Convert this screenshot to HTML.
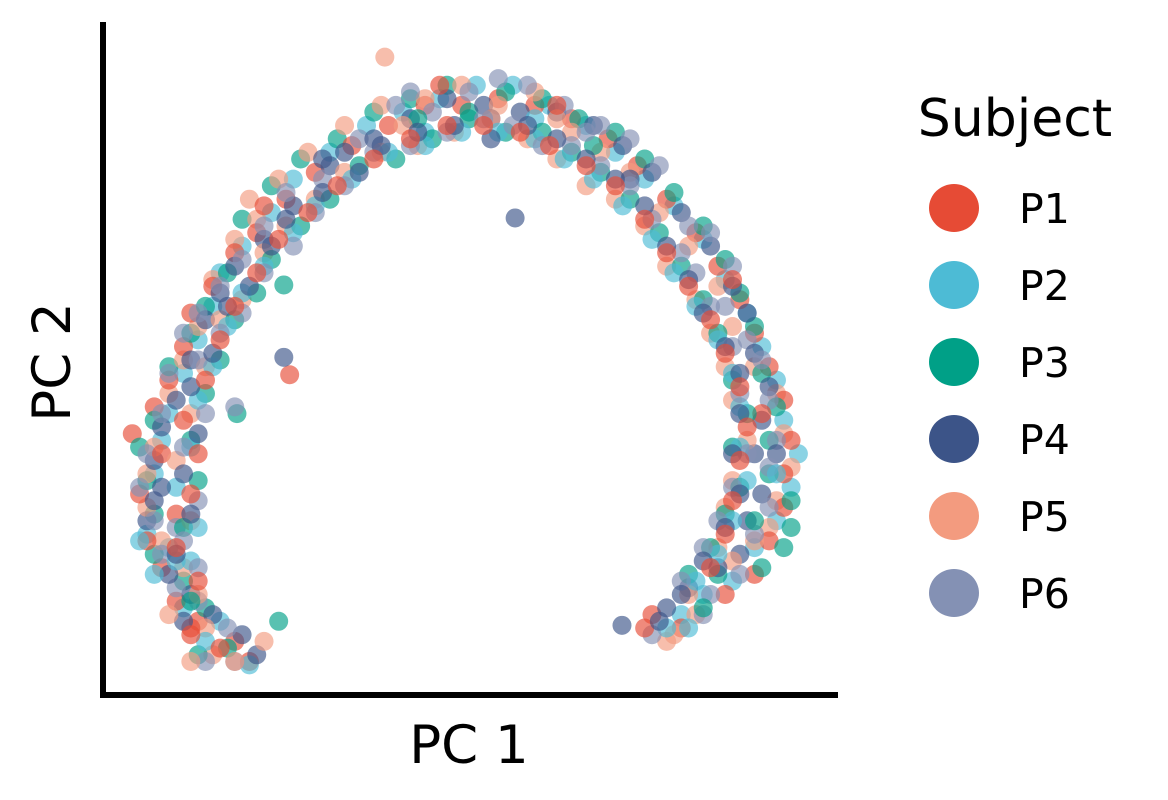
<!DOCTYPE html>
<html><head><meta charset="utf-8"><style>
html,body{margin:0;padding:0;background:#fff;}
svg{display:block;font-family:"DejaVu Sans","Liberation Sans",sans-serif;}
</style></head><body>
<svg id="chart" width="1168" height="800" viewBox="0 0 1168 800">
<g id="points"></g>
<line x1="103" y1="22" x2="103" y2="698" stroke="#000" stroke-width="6"/>
<line x1="100" y1="695" x2="838" y2="695" stroke="#000" stroke-width="6"/>
<text x="469" y="763" font-size="53" text-anchor="middle">PC 1</text>
<text x="0" y="0" font-size="53" text-anchor="middle" transform="translate(70,362) rotate(-90)">PC 2</text>
<text x="1015" y="136" font-size="52" text-anchor="middle">Subject</text>
<g id="legend"></g>
</svg>
<script>
const subjects = ["P1","P2","P3","P4","P5","P6"];
const colors = ["#E64B35","#4DBBD5","#00A087","#3C5488","#F39B7F","#8491B4"];
const p1 = [[20,5],[18,8],[13,11],[10,14],[8,19],[6,23],[5,30],[4,39],[7,43],[9,47],[11,52],[12,57],[15,61],[18,66],[21,69],[25,74],[29,78],[34,82],[39,85],[44,88],[49,88],[54,89],[59,88],[64,86],[69,83],[73,79],[77,74],[81,69],[84,64],[87,59],[89,54],[91,49],[93,44],[94,38],[93,33],[93,28],[91,23],[89,18],[85,15],[79,10],[75,12],[25.5,47.8],[10,27],[8,36],[22,73],[46,91],[62,88],[86,62],[90,42],[12,10],
 [12,9],[13,17],[10,22],[12,30],[13,36],[11,41],[14,47],[16,53],[18,58],[21,63],[24,68],[28,72],[32,76],[37,80],[42,83],[47,85],[52,85],[57,84],[61,82],[66,79],[70,76],[74,71],[77,66],[80,61],[83,56],[85,51],[87,46],[88,40],[87,35],[86,29],[85,24],[83,19],[74,10],[16,7]];
const p2 = [[20,4.5],[16,11],[11,13],[6,24],[9,22],[7,33],[8,38],[9,42],[11,48],[13,53],[15,58],[16,63],[19,67],[23,72],[26,77],[31,81],[36,85],[41,87],[46,89],[51,91],[56,91],[61,88],[66,85],[70,81],[74,77],[78,73],[82,68],[85,62],[88,57],[90,52],[92,47],[93,41],[95,36],[94,31],[92,26],[89,22],[86,17],[82,15],[79,12],[44,84],[59,86],[10,20],[5,23],[92,33],[80,10],
 [14,8],[12,20],[13,25],[10,31],[12,37],[13,44],[15,49],[17,55],[19,60],[22,64],[26,69],[29,73],[34,77],[39,81],[44,82],[49,84],[54,84],[59,83],[63,80],[67,77],[71,73],[75,68],[78,63],[81,58],[84,53],[86,48],[87,43],[87,37],[88,32],[86,26],[84,21],[81,17],[77,10],[7,18]];
const p3 = [[24,11],[17,7],[14,13],[11,17],[7,21],[7,27],[6,32],[5,37],[7,41],[9,49],[12,54],[14,58],[17,63],[19,71],[23,76],[27,80],[32,83],[37,87],[42,89],[47,91],[50,87],[55,90],[60,89],[65,86],[70,84],[74,80],[78,75],[82,70],[85,65],[87,60],[89,55],[90,48],[92,43],[91,38],[91,33],[94,29],[93,22],[90,19],[84,18],[24.7,61.2],[18.3,42],[43,86],[67,82],[89,26],
 [13,6],[12,14],[11,25],[13,32],[12,38],[14,45],[16,50],[18,56],[21,60],[23,65],[27,70],[31,74],[35,79],[40,80],[45,83],[50,86],[55,84],[60,84],[64,81],[68,78],[72,74],[76,69],[79,64],[82,59],[84,54],[86,47],[88,42],[86,37],[87,31],[85,27],[83,22],[80,18],[82,13],[94,25]];
const p4 = [[21,6],[19,9],[15,12],[12,15],[9,18],[6,26],[7,29],[7,35],[8,40],[10,44],[12,50],[14,56],[16,60],[18,64],[22,68],[26,73],[31,79],[33,81],[37,83],[42,86],[47,89],[52,88],[57,87],[62,87],[67,85],[71,82],[75,78],[79,72],[83,67],[86,61],[88,57],[89,51],[91,46],[90,41],[92,36],[90,30],[88,26],[87,21],[84,19],[80,16],[77,13],[56.3,71.2],[70.9,10.4],[24.7,50.4],[30,80],[53,86],[72,77],[89,36],[8,31],
 [11,11],[10,21],[12,27],[11,33],[13,39],[12,46],[15,51],[17,58],[20,61],[23,67],[25,71],[30,75],[35,78],[38,82],[43,84],[48,85],[53,83],[58,85],[62,83],[66,80],[70,77],[74,73],[77,67],[80,62],[82,57],[85,52],[87,48],[87,42],[86,36],[87,30],[85,25],[82,20],[79,15],[76,11]];
const p5 = [[22,8],[18,5],[14,10],[11,19],[8,23],[6,28],[6,33],[7,37],[9,45],[11,50],[13,55],[15,62],[18,68],[21,71],[24,77],[28,81],[33,85],[38,88],[38.5,95.2],[44,89],[49,91],[54,88],[59,90],[64,84],[68,81],[72,78],[76,72],[80,67],[84,61],[86,55],[89,49],[92,45],[93,39],[94,34],[92,29],[91,25],[89,23],[86,20],[81,12],[78,9],[20,74],[41,85],[62,86],
 [15,6],[13,15],[12,26],[10,35],[12,42],[14,49],[16,56],[19,59],[22,66],[25,70],[29,74],[33,78],[38,81],[43,82],[48,84],[53,86],[58,83],[62,80],[66,76],[70,74],[74,70],[77,64],[81,59],[83,54],[85,49],[86,44],[88,38],[86,32],[85,28],[84,22],[80,15],[77,8],[9,12],[12,5]];
const p6 = [[18,5],[17,10],[13,14],[10,16],[8,21],[7,26],[5,31],[6,36],[8,42],[9,48],[11,54],[13,57],[16,61],[19,65],[22,70],[25,75],[30,77],[35,83],[40,88],[45,87],[50,90],[54,92],[58,91],[63,88],[68,85],[72,83],[76,79],[80,70],[83,69],[85,58],[88,53],[90,50],[91,44],[92,38],[91,34],[91,28],[89,24],[87,18],[83,15],[82,12],[18,43],[42,90],[66,84],[86,64],[10,25],
 [14,5],[13,19],[11,23],[13,29],[11,37],[14,42],[13,50],[16,54],[19,57],[22,63],[26,67],[29,72],[33,76],[37,81],[42,82],[47,84],[52,86],[56,85],[60,82],[64,82],[68,79],[72,76],[75,71],[79,66],[81,63],[83,58],[86,52],[87,45],[88,36],[86,31],[84,26],[82,22],[79,17],[75,9]];
const series = [p1,p2,p3,p4,p5,p6];

const NS = "http://www.w3.org/2000/svg";
function xScale(v){ return 103 + v * 7.32; }
function yScale(v){ return 695 - v * 6.7; }

const layer = document.getElementById("points");
const maxLen = Math.max(...series.map(s => s.length));
for (let i = 0; i < maxLen; i++) {
  for (let s = 0; s < series.length; s++) {
    const pt = series[s][i];
    if (!pt) continue;
    const c = document.createElementNS(NS, "circle");
    c.setAttribute("cx", xScale(pt[0]));
    c.setAttribute("cy", yScale(pt[1]));
    c.setAttribute("r", 9.5);
    c.setAttribute("fill", colors[s]);
    c.setAttribute("fill-opacity", 0.65);
    
    
    layer.appendChild(c);
  }
}

const legend = document.getElementById("legend");
for (let s = 0; s < subjects.length; s++) {
  const cy = 208 + s * 77;
  const c = document.createElementNS(NS, "ellipse");
  c.setAttribute("cx", 954);
  c.setAttribute("cy", cy);
  c.setAttribute("rx", 25);
  c.setAttribute("ry", 24);
  c.setAttribute("fill", colors[s]);
  
  
  legend.appendChild(c);
  const t = document.createElementNS(NS, "text");
  t.setAttribute("x", 1019);
  t.setAttribute("y", cy + 15);
  t.setAttribute("font-size", 41);
  t.textContent = subjects[s];
  
  
  legend.appendChild(t);
}
</script>
</body></html>
